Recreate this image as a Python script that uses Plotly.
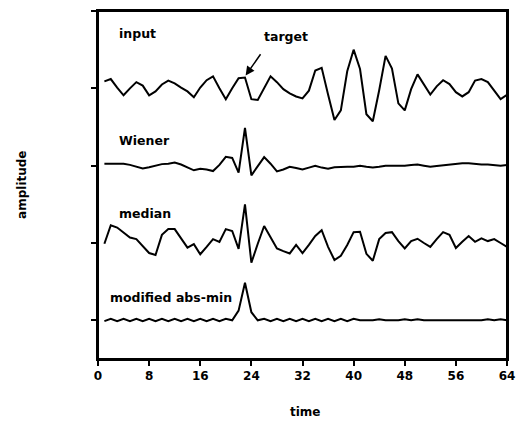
import plotly.graph_objects as go

time = list(range(1, 65))

input_amp = [0.9, 1.2, 0.1, -0.9, 0.0, 0.8, 0.35, -0.9, -0.4, 0.5,
             1.0, 0.65, 0.1, -0.4, -1.15, 0.1, 1.05, 1.55, 0.0, -1.4,
             0.0, 1.3, 1.4, -1.4, -1.5, 0.1, 1.55, 0.8, -0.1, -0.65,
             -1.05, -1.3, -0.3, 2.3, 2.65, -0.8, -4.1, -2.85, 2.2, 5.0,
             2.5, -3.35, -4.25, -0.25, 4.2, 2.55, -1.95, -2.85, -0.1, 1.8,
             0.5, -0.8, 0.25, 1.05, 0.55, -0.5, -1.05, -0.5, 1.0, 1.2,
             0.8, -0.25, -1.4, -0.85]

wiener_amp = [0.25, 0.25, 0.25, 0.25, 0.1, -0.15, -0.35, -0.2, 0.05, 0.2,
              0.25, 0.4, 0.15, -0.25, -0.6, -0.4, -0.5, -0.7, 0.1, 1.15,
              1.0, -0.9, 4.9, -1.25, 0.0, 1.1, 0.25, -0.75, -0.5, -0.15,
              -0.3, -0.5, -0.25, 0.0, -0.25, -0.4, -0.2, -0.15, -0.15, -0.15,
              0.0, -0.15, -0.25, -0.15, 0.0, 0.0, 0.0, 0.0, 0.1, 0.15,
              0.0, -0.15, -0.05, 0.05, 0.1, 0.2, 0.3, 0.3, 0.2, 0.15,
              0.15, 0.1, 0.0, 0.1]

median_amp = [-0.1, 2.3, 2.0, 1.35, 0.7, 0.5, -0.4, -1.3, -1.55, 1.05,
              1.8, 1.8, 0.6, -0.6, -0.15, -1.45, -0.5, 0.5, 0.15, 1.8,
              1.55, -0.75, 5.0, -2.55, -0.1, 2.2, 0.75, -0.7, -1.05, -1.35,
              -0.25, -1.3, -0.25, 0.9, 1.65, -0.5, -2.2, -1.65, -0.25, 1.4,
              1.45, -1.4, -2.3, 0.5, 1.3, 1.4, 0.25, -0.7, 0.25, 0.55,
              0.0, -0.5, 0.5, 1.4, 1.05, -0.65, 0.15, 0.9, 0.15, 0.6,
              0.25, 0.5, 0.0, -0.5]

absmin_amp = [-0.1, 0.2, -0.1, 0.2, -0.1, 0.2, -0.1, 0.2, -0.1, 0.2,
              -0.1, 0.2, -0.1, 0.2, -0.1, 0.2, -0.1, 0.2, -0.1, 0.2,
              0.0, 1.25, 4.85, 1.05, 0.0, 0.2, -0.1, 0.2, -0.1, 0.2,
              -0.1, 0.2, -0.1, 0.2, -0.1, 0.2, -0.1, 0.2, -0.1, 0.2,
              0.0, 0.0, 0.0, 0.15, 0.0, 0.0, 0.0, 0.15, 0.0, 0.15,
              0.0, 0.0, 0.0, 0.0, 0.0, 0.0, 0.0, 0.0, 0.0, 0.0,
              0.15, 0.0, 0.15, 0.0]

series = [("input", input_amp, 30), ("Wiener", wiener_amp, 20),
          ("median", median_amp, 10), ("modified abs-min", absmin_amp, 0)]

x_ticks = [0, 8, 16, 24, 32, 40, 48, 56, 64]

FONT = "DejaVu Sans"
LBL = dict(family=FONT, size=12.5, color="black", weight="bold")

fig = go.Figure()
for name, amp, base in series:
    fig.add_trace(go.Scatter(x=time, y=[a + base for a in amp], mode="lines",
                             line=dict(color="black", width=2), name=name,
                             showlegend=False, hoverinfo="skip"))

labels = [("input", 2.9, 37.1), ("Wiener", 2.9, 23.2), ("median", 2.9, 13.8),
          ("modified abs-min", 1.5, 3.0), ("target", 25.6, 36.7)]
for txt, x, y in labels:
    fig.add_annotation(x=x, y=y, text=txt, showarrow=False, xanchor="left",
                       yanchor="middle", font=LBL)

fig.add_annotation(x=23.1, y=31.65, ax=25.6, ay=34.6, axref="x", ayref="y",
                   text="", showarrow=True, arrowhead=2, arrowsize=1.2,
                   arrowwidth=1.5, arrowcolor="black")

fig.add_annotation(xref="paper", yref="paper", x=-0.186, y=0.5, text="amplitude",
                   textangle=-90, showarrow=False, xanchor="center",
                   yanchor="middle",
                   font=dict(family=FONT, size=12, color="black", weight="bold"))
fig.add_annotation(xref="paper", yref="paper", x=0.507, y=-0.151, text="time",
                   showarrow=False, xanchor="center", yanchor="middle",
                   font=dict(family=FONT, size=12, color="black", weight="bold"))

# plot frame
fig.add_shape(type="rect", xref="paper", yref="paper", x0=0, x1=1, y0=0, y1=1,
              line=dict(color="black", width=2), fillcolor="rgba(0,0,0,0)",
              layer="above")

fig.update_layout(
    width=524, height=425, autosize=False,
    margin=dict(l=98, r=15, t=9, b=66),
    paper_bgcolor="white", plot_bgcolor="white",
    xaxis=dict(range=[0, 64], tickvals=x_ticks, ticks="outside", ticklen=5,
               tickwidth=2, tickcolor="black", showline=True, linecolor="black",
               linewidth=2, mirror=True, showgrid=False, zeroline=False,
               tickfont=dict(family=FONT, size=12, color="black", weight="bold")),
    yaxis=dict(range=[-5, 40], tickvals=[0, 10, 20, 30, 40], ticks="outside",
               ticklen=5, tickwidth=2, tickcolor="black", showticklabels=False,
               showline=True, linecolor="black", linewidth=2, mirror=True,
               showgrid=False, zeroline=False),
)

fig.write_html("out.html", config={"displayModeBar": False},
               post_script="document.body.style.margin='0';"
                           "document.body.style.overflow='hidden';")
